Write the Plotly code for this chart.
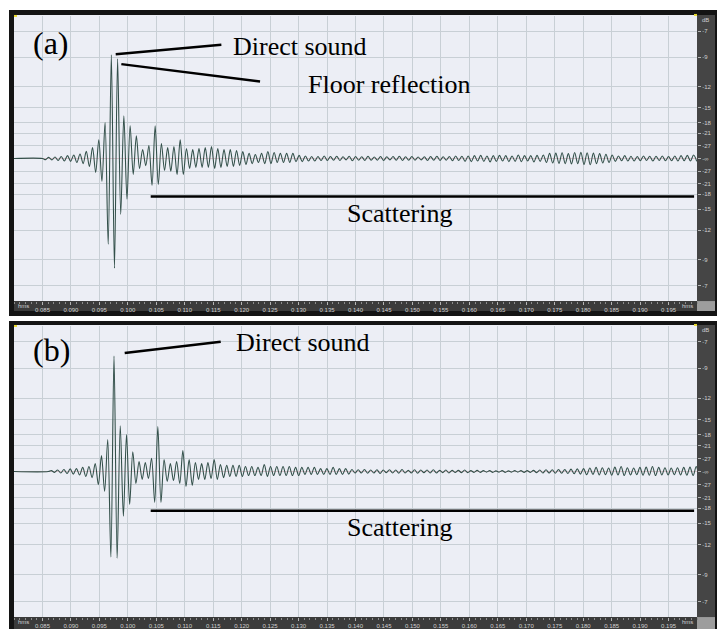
import numpy as np
import plotly.graph_objects as go

# ---------------------------------------------------------------- data
# Time window of both waveform views (s) and the labelled time ticks
T_RANGE = [0.080, 0.200]
TIME_TICKS = [0.085, 0.090, 0.095, 0.100, 0.105, 0.110, 0.115, 0.120,
              0.125, 0.130, 0.135, 0.140, 0.145, 0.150, 0.155, 0.160,
              0.165, 0.170, 0.175, 0.180, 0.185, 0.190, 0.195]
# Level grid of the amplitude ruler (dB re full scale)
DB_LEVELS = [-7, -9, -12, -15, -18, -21, -27]
AMP_RANGE = [-0.5, 0.5]

# Successive half-cycle extremes of the recorded responses,
# in thousandths of full scale, spaced HALF_CYCLE seconds apart
HALF_CYCLE = 0.00055
ONSET_A = 0.08555
ONSET_B = 0.08657

WAVE_A = (
    [-4, 4, -5, 5, -7, 7, -9, 10, -10, 12, -14, 16, -18, 25, -28, 38, -49,
     66, -80, 126, -301]
    + [364, -385, 350, -196, 150, -143, 115, -56, 80, -35, 31, -25, 45, -94,
       115, -91, 52, -42]
    + [38, -45, 42, -56, 66, -56, 35, -35, 31, -31, 35, -31, 38, -31, 42, -35,
       35, -31, 31, -28, 31, -28, 28, -24, 24, -21, 18, -18]
    + [14, -14, 18, -18, 24, -18, 21, -14, 18, -14, 18, -14, 18, -11, 11, -11,
       9, -9, 7, -9, 7, -7, 9, -7]
    + [7, -6, 8, -7, 6, -5, 8, -8, 7, -6, 6, -7, 8, -6, 5, -6, 7, -7, 6, -5,
       7, -6, 8, -7, 6, -6, 7, -6, 5, -5, 6, -7, 7, -6, 8, -7, 6, -6, 7, -8,
       9, -7, 8]
    + [-10, 9, -11, 10, -9, 11, -10, 9, -12, 10, -10, 11, -9, 10, -11, 9, -10,
       12, -11, 10, -9, 10, -12, 11, -10, 12, -14]
    + [18, -16, 19, -17, 20, -18, 17, -19, 21, -18, 22, -21, 20, -22, 19, -18,
       17, -16, 15, -14, 12, -10]
    + [9, -8, 10, -9, 8, -9, 7, -8, 9, -7, 8, -9, 8, -7, 9, -8, 7, -8, 9, -9,
       10, -8, 11, -9, 12, -10]
)

WAVE_B = (
    [3, -3, 5, -5, 7, -7, 9, -9, 10, -12, 14, -17, 17, -21, 27, -45, 55, -68]
    + [110, -294, 397, -298, 157, -154, 127, -113, 68, -41]
    + [34, -27, 31, -24, 45, -106, 154, -106, 41, -34, 27, -31, 34, -41]
    + [72, -51, 41, -48, 31, -27, 27, -27, 31, -24, 41, -27, 24, -21, 21, -17,
       21, -17, 21, -17, 17, -14, 17, -14]
    + [14, -14, 24, -17, 17, -14, 17, -14, 17, -14, 17, -14, 14, -14, 14, -10,
       14, -10, 14, -10, 10, -10, 10, -10, 14, -10, 10, -10, 10, -9, 7]
    + [-5, 6, -5, 7, -6, 5, -5, 6, -7, 5, -4, 6, -5, 5, -6, 7, -5, 4, -5, 6,
       -6, 5, -4, 5, -5, 6, -5, 4, -4, 5, -5, 4, -3, 4, -4, 5, -4, 3, -3, 4, -3]
    + [3, -2, 3, -3, 2, -2, 3, -3, 2, -2, 3, -2, 3, -3, 3, -3, 4]
    + [-4, 5, -5, 6, -5, 6, -6, 7, -6, 7, -7, 8, -8, 9, -9]
    + [10, -11, 12, -10, 14, -12, 13, -11, 12, -13, 15, -12, 17, -14, 13, -12,
       12, -11, 14, -13, 15, -13, 17, -14, 14, -12, 13, -12, 12, -11, 13, -12,
       14, -13, 15, -14, 17, -12, 19]
)

# ---------------------------------------------------------------- style
W, H = 720, 629
WAVE_COLOR = "#33504a"
PLOT_BG = "#eceef5"
GRID = "#c8cfd5"
BAR = "#3b3b3b"
RULER = "#454545"
FRAME = "#141414"
LABEL = "#d0d0d0"
SERIF = "Liberation Serif"
SANS = "Liberation Sans"


def px(x):
    return x / W


def py(y):
    return 1 - y / H


PLOT_L, PLOT_R, RULER_R, FRAME_L, FRAME_R = 14, 697, 715, 9, 717
PANELS = [
    dict(frame_top=10, frame_bot=317, top=16, bot=302, bar_bot=312),
    dict(frame_top=322, frame_bot=640, top=327, bot=619, bar_bot=640),
]

fig = go.Figure()

for i, (onset, wave) in enumerate([(ONSET_A, WAVE_A), (ONSET_B, WAVE_B)]):
    ext_t = onset + HALF_CYCLE * np.arange(len(wave))
    t = np.concatenate([[T_RANGE[0], onset - HALF_CYCLE], ext_t])
    v = np.concatenate([[0.0, 0.0], np.asarray(wave, dtype=float) / 1000.0])
    sfx = "" if i == 0 else "2"
    fig.add_trace(go.Scatter(
        x=t, y=v, xaxis="x" + sfx, yaxis="y" + sfx, mode="lines",
        line=dict(color=WAVE_COLOR, width=1.1, shape="spline", smoothing=0.9),
        hoverinfo="skip", showlegend=False))

amp_ticks = ([10 ** (d / 20) for d in DB_LEVELS] + [0.0]
             + [-(10 ** (d / 20)) for d in DB_LEVELS])
amp_text = [str(d) for d in DB_LEVELS] + ["-\u221e"] + [str(d) for d in DB_LEVELS]

shapes = []
annotations = []
for i, p in enumerate(PANELS):
    sfx = "" if i == 0 else "2"
    xa = dict(
        domain=[px(PLOT_L), px(PLOT_R)], anchor="y" + sfx, range=T_RANGE,
        tickmode="array", tickvals=TIME_TICKS, tickformat=".3f",
        ticks="outside", ticklen=3, tickwidth=1, tickcolor="#b5b5b5",
        tickfont=dict(family=SANS, size=6, color=LABEL),
        showgrid=True, gridcolor=GRID, gridwidth=1,
        zeroline=False, showline=False, fixedrange=True,
        minor=dict(tickmode="linear", tick0=T_RANGE[0], dtick=0.001,
                   ticks="outside", ticklen=2, tickcolor="#8c8c8c",
                   showgrid=False),
    )
    ya = dict(
        domain=[py(p["bot"]), py(p["top"])], anchor="x" + sfx, range=AMP_RANGE,
        side="right", tickmode="array", tickvals=amp_ticks, ticktext=amp_text,
        ticks="outside", ticklen=3, tickwidth=1, tickcolor="#b5b5b5",
        tickfont=dict(family=SANS, size=6, color=LABEL),
        showgrid=True, gridcolor=GRID, gridwidth=1,
        zeroline=True, zerolinecolor="#d9c3cb", zerolinewidth=1,
        showline=False, fixedrange=True,
    )
    fig.update_layout({"xaxis" + sfx: xa, "yaxis" + sfx: ya})

    def rect(x0, y0, x1, y1, color):
        shapes.append(dict(type="rect", xref="paper", yref="paper", layer="below",
                           x0=px(x0), x1=px(x1), y0=py(y1), y1=py(y0),
                           fillcolor=color, line=dict(width=0)))

    rect(FRAME_L, p["frame_top"], FRAME_R, p["frame_bot"], FRAME)
    rect(PLOT_L, p["top"] - 1, PLOT_R, p["bot"], PLOT_BG)
    rect(PLOT_L, p["bot"], PLOT_R, p["bar_bot"], BAR)
    rect(PLOT_R, p["top"] - 1, RULER_R, p["bot"], RULER)
    rect(PLOT_R, p["bot"], RULER_R, p["bar_bot"], "#9d9d9d")
    # yellow position markers
    for (mx, my, dx, dy) in [(PLOT_L, p["top"] - 1, 3, 2), (PLOT_R - 3, p["top"] - 2, 3, 2)]:
        rect(mx, my, mx + dx, my + dy, "#e8d830")

    small = dict(family=SANS, size=6, color=LABEL)
    bar_mid = p["bot"] + 5
    annotations += [
        dict(x=px(PLOT_L + 2), y=py(bar_mid), xref="paper", yref="paper",
             text="hms", showarrow=False, xanchor="left", yanchor="middle", font=small),
        dict(x=px(PLOT_R - 2), y=py(bar_mid), xref="paper", yref="paper",
             text="hms", showarrow=False, xanchor="right", yanchor="middle", font=small),
        dict(x=px(PLOT_R + 3), y=py(p["top"] + 4), xref="paper", yref="paper",
             text="dB", showarrow=False, xanchor="left", yanchor="middle", font=small),
    ]

# Callout lines, in each panel's own time / amplitude coordinates
CALLOUTS = [
    ("", 0.09787, 0.366, 0.11643, 0.399),
    ("", 0.09886, 0.331, 0.12323, 0.270),
    ("", 0.10402, -0.133, 0.19949, -0.133),
    ("2", 0.09945, 0.407, 0.11632, 0.446),
    ("2", 0.10402, -0.135, 0.19949, -0.135),
]
for sfx, x0, y0, x1, y1 in CALLOUTS:
    shapes.append(dict(type="line", xref="x" + sfx, yref="y" + sfx,
                       x0=x0, y0=y0, x1=x1, y1=y1,
                       line=dict(color="black", width=2.5)))

# Panel letters and callout texts
LABELS = [
    ("(a)", 50.5, 43, 32, "center"),
    ("Direct sound", 231, 47, 26, "left"),
    ("Floor reflection", 306, 85, 26, "left"),
    ("Scattering", 345, 214, 26, "left"),
    ("(b)", 52, 351, 32, "center"),
    ("Direct sound", 234, 344, 26, "left"),
    ("Scattering", 345, 529, 26, "left"),
]
for text, x, y, size, anchor in LABELS:
    annotations.append(dict(x=px(x), y=py(y), xref="paper", yref="paper",
                            text=text, showarrow=False, xanchor=anchor,
                            yanchor="middle",
                            font=dict(family=SERIF, size=size, color="black")))

fig.update_layout(
    width=W, height=H, margin=dict(l=0, r=0, t=0, b=0),
    paper_bgcolor="white", plot_bgcolor="rgba(0,0,0,0)",
    shapes=shapes, annotations=annotations, showlegend=False,
)

fig.write_html("out.html")
